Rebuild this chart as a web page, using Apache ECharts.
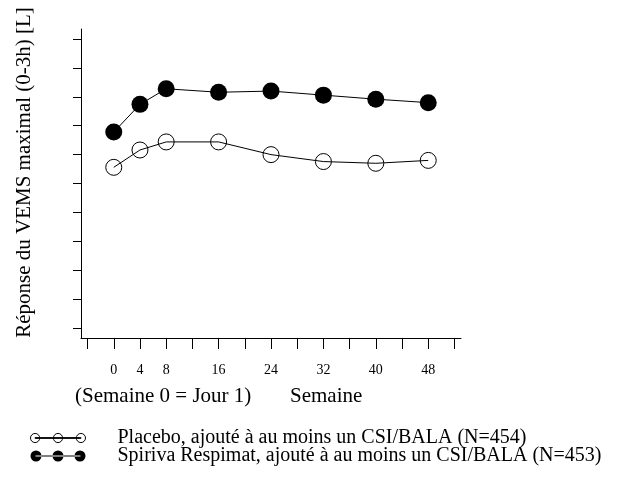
<!DOCTYPE html>
<html lang="fr">
<head>
    <meta charset="UTF-8">
    <title>VEMS maximal</title>
    <script src="https://cdn.jsdelivr.net/npm/echarts@6/dist/echarts.min.js"></script>
    <style>
        html, body { margin: 0; padding: 0; background: #fff; }
        #chart { width: 634px; height: 489px; }
    </style>
</head>
<body>
    <div id="chart"></div>
<script type="text/javascript">
// semaines de mesure
var weeks = [0, 4, 8, 16, 24, 32, 40, 48];
// réponse du VEMS maximal (L)
var spiriva = [0.339, 0.387, 0.414, 0.408, 0.410, 0.403, 0.396, 0.390];
var placebo = [0.278, 0.308, 0.322, 0.322, 0.300, 0.288, 0.285, 0.290];
// graduations
var xTicks = [-4, 0, 4, 8, 12, 16, 20, 24, 28, 32, 36, 40, 44, 48, 52];
var xLabels = [0, 4, 8, 16, 24, 32, 40, 48];
var yTicks = [0, 0.05, 0.1, 0.15, 0.2, 0.25, 0.3, 0.35, 0.4, 0.45, 0.5];

var namePlacebo = 'Placebo, ajouté à au moins un CSI/BALA (N=454)';
var nameSpiriva = 'Spiriva Respimat, ajouté à au moins un CSI/BALA (N=453)';

function pairs(xs, ys) {
    return xs.map(function (x, i) { return [x, ys[i]]; });
}

var serif = 'Liberation Serif';
var iconOpen = 'path://M0.5,5a4.5,4.5 0 1,0 9,0a4.5,4.5 0 1,0 -9,0ZM23,5a4.5,4.5 0 1,0 9,0a4.5,4.5 0 1,0 -9,0ZM45.5,5a4.5,4.5 0 1,0 9,0a4.5,4.5 0 1,0 -9,0ZM5,4.6L50,4.6L50,5.4L5,5.4Z';
var iconFull = 'path://M0,5.5a5.5,5.5 0 1,0 11,0a5.5,5.5 0 1,0 -11,0ZM22,5.5a5.5,5.5 0 1,0 11,0a5.5,5.5 0 1,0 -11,0ZM44,5.5a5.5,5.5 0 1,0 11,0a5.5,5.5 0 1,0 -11,0ZM5,5L50,5L50,6L5,6Z';

var myChart = echarts.init(document.getElementById('chart'));
var option = {
    animation: false,
    backgroundColor: '#fff',
    textStyle: { fontFamily: serif, color: '#000' },
    grid: { left: 81, top: 29, width: 380, height: 309 },
    xAxis: {
        type: 'value',
        min: -5,
        max: 53,
        splitLine: { show: false },
        axisLine: { onZero: false, lineStyle: { color: '#000', width: 1 } },
        axisTick: { customValues: xTicks, length: 11, lineStyle: { color: '#000' } },
        axisLabel: { customValues: xLabels, margin: 25, fontSize: 14, fontFamily: serif, color: '#000' }
    },
    yAxis: {
        type: 'value',
        min: -0.0175,
        max: 0.5175,
        name: 'Réponse du VEMS maximal (0-3h) [L]',
        nameLocation: 'middle',
        nameGap: 46,
        nameTextStyle: { fontSize: 21, fontFamily: serif, color: '#000', padding: [0, 0, 0, 22] },
        splitLine: { show: false },
        axisLine: { onZero: false, lineStyle: { color: '#000', width: 1 } },
        axisTick: { customValues: yTicks, length: 8, lineStyle: { color: '#000' } },
        axisLabel: { show: false }
    },
    legend: {
        orient: 'vertical',
        left: 30,
        top: 428,
        padding: 0,
        itemWidth: 55,
        itemHeight: 11,
        itemGap: -2,
        selectedMode: false,
        textStyle: { fontSize: 20, fontFamily: serif, color: '#000', padding: [0, 0, 0, 27] },
        data: [
            { name: namePlacebo, icon: iconOpen, itemStyle: { color: '#fff', borderColor: '#000', borderWidth: 1 } },
            { name: nameSpiriva, icon: iconFull, itemStyle: { color: '#000', borderWidth: 0 } }
        ]
    },
    graphic: [
        { type: 'text', left: 75, top: 386, style: { text: '(Semaine 0 = Jour 1)', font: '21px "Liberation Serif"', fill: '#000' } },
        { type: 'text', left: 290, top: 386, style: { text: 'Semaine', font: '21px "Liberation Serif"', fill: '#000' } }
    ],
    series: [{
        name: nameSpiriva,
        type: 'line',
        data: pairs(weeks, spiriva),
        symbol: 'circle',
        symbolSize: 17,
        itemStyle: { color: '#000' },
        lineStyle: { color: '#000', width: 1 },
        silent: true
    }, {
        name: namePlacebo,
        type: 'line',
        data: pairs(weeks, placebo),
        symbol: 'circle',
        symbolSize: 16,
        itemStyle: { color: 'transparent', borderColor: '#000', borderWidth: 1 },
        lineStyle: { color: '#000', width: 1 },
        silent: true
    }]
};
myChart.setOption(option);
</script>
</body>
</html>
